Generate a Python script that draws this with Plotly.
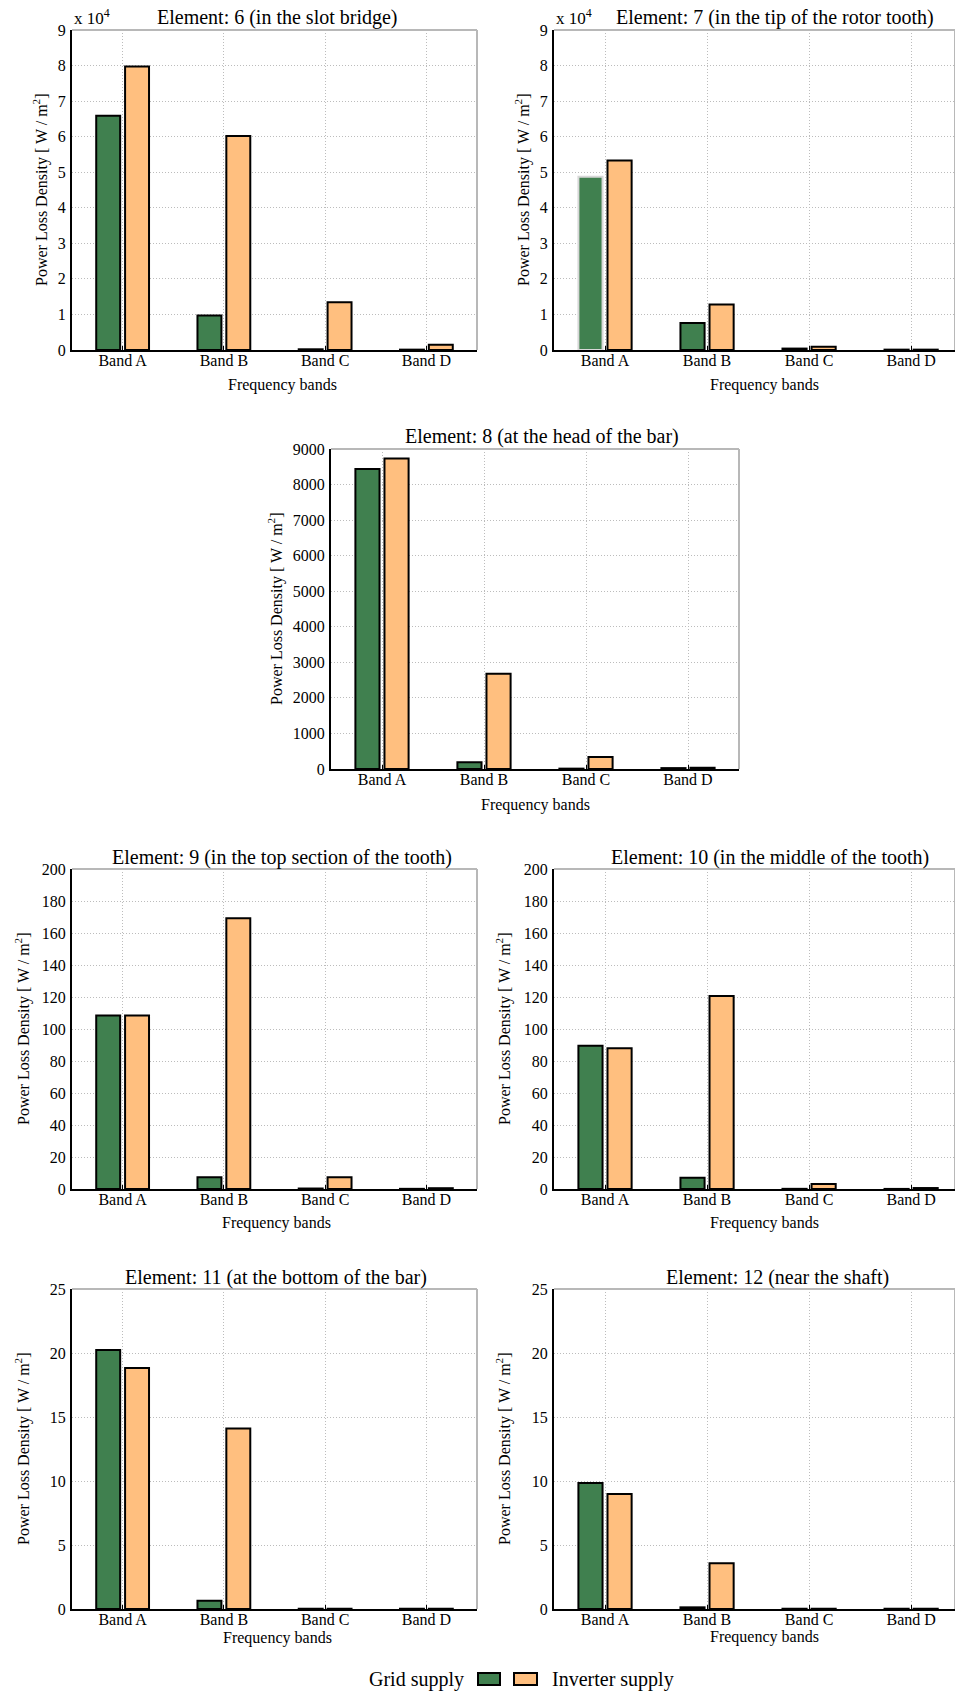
import plotly.graph_objects as go

W, H = 955, 1695

bands = ["Band A", "Band B", "Band C", "Band D"]
series_names = ["Grid supply", "Inverter supply"]

grid_e6 = [65900, 9700, 200, 100]
inv_e6 = [79700, 60200, 13400, 1500]
grid_e7 = [48700, 7600, 400, 100]
inv_e7 = [53300, 12800, 900, 100]
grid_e8 = [8440, 190, 10, 25]
inv_e8 = [8730, 2680, 340, 35]
grid_e9 = [108.5, 7.3, 0.3, 0.1]
inv_e9 = [108.5, 169.2, 7.3, 0.5]
grid_e10 = [89.6, 7.1, 0.1, 0.05]
inv_e10 = [87.9, 120.6, 3.1, 0.6]
grid_e11 = [20.24, 0.65, 0.02, 0.02]
inv_e11 = [18.83, 14.1, 0.02, 0.02]
grid_e12 = [9.85, 0.13, 0.02, 0.02]
inv_e12 = [8.99, 3.57, 0.02, 0.02]

titles = [
    "Element: 6 (in the slot bridge)",
    "Element: 7 (in the tip of the rotor tooth)",
    "Element: 8 (at the head of the bar)",
    "Element: 9 (in the top section of the tooth)",
    "Element: 10 (in the middle of the tooth)",
    "Element: 11 (at the bottom of the bar)",
    "Element: 12 (near the shaft)",
]
grid_series = [grid_e6, grid_e7, grid_e8, grid_e9, grid_e10, grid_e11, grid_e12]
inv_series = [inv_e6, inv_e7, inv_e8, inv_e9, inv_e10, inv_e11, inv_e12]
y_max = [90000, 90000, 9000, 200, 200, 25, 25]
y_step = [10000, 10000, 1000, 20, 20, 5, 5]
exp_labels = ["x 10<sup>4</sup>", "x 10<sup>4</sup>", None, None, None, None, None]

# layout geometry (pixels): left, right, top, bottom, x-range end
panels = [
    dict(l=72, r=477, t=30, b=350, xend=3.5, tx=277, ty=18, ytx=40, xtx=282, xty=385),
    dict(l=554, r=955, t=30, b=350, xend=3.43, tx=775, ty=18, ytx=522, xtx=764, xty=385),
    dict(l=331, r=739, t=449, b=769, xend=3.5, tx=542, ty=437, ytx=275, xtx=535, xty=805),
    dict(l=72, r=477, t=869, b=1189, xend=3.5, tx=282, ty=857, ytx=22, xtx=276, xty=1223),
    dict(l=554, r=955, t=869, b=1189, xend=3.43, tx=770, ty=857, ytx=503, xtx=764, xty=1223),
    dict(l=72, r=477, t=1289, b=1609, xend=3.5, tx=276, ty=1277, ytx=22, xtx=277, xty=1638),
    dict(l=554, r=955, t=1289, b=1609, xend=3.43, tx=777, ty=1277, ytx=503, xtx=764, xty=1637),
]

GREEN = "#40804F"
ORANGE = "#FFBF7F"
FONT = "Liberation Serif"
GRIDC = "#bcbcbc"
BOXC = "#b8b8b8"

fig = go.Figure()
annotations = []
shapes = []

def fx(p):
    return p / W

def fy(p):
    return 1 - p / H

for i, (p, title) in enumerate(zip(panels, titles)):
    k = "" if i == 0 else str(i + 1)
    xa, ya = "x" + k, "y" + k
    green_line = ["black"] * 4
    if i == 1:
        green_line = ["#d8d8d8", "black", "black", "black"]
    fig.add_trace(go.Bar(x=bands, y=grid_series[i], name=series_names[0],
                         marker=dict(color=GREEN, line=dict(color=green_line, width=2)),
                         xaxis=xa, yaxis=ya, showlegend=False))
    fig.add_trace(go.Bar(x=bands, y=inv_series[i], name=series_names[1],
                         marker=dict(color=ORANGE, line=dict(color="black", width=2)),
                         xaxis=xa, yaxis=ya, showlegend=False))
    nt = int(round(y_max[i] / y_step[i]))
    tickvals = [j * y_step[i] for j in range(nt + 1)]
    if exp_labels[i]:
        ticktext = [str(j) for j in range(nt + 1)]
    else:
        ticktext = [str(v) for v in tickvals]
    fig.layout["xaxis" + k] = dict(
        domain=[fx(p["l"]), fx(p["r"])], anchor=ya, range=[-0.5, p["xend"]],
        type="category", showline=True, linecolor="black", linewidth=2, mirror=False,
        showgrid=True, gridcolor=GRIDC, griddash="1px,2px", gridwidth=1,
        ticks="inside", ticklen=4, tickcolor="black", tickwidth=1,
        ticklabelstandoff=-5,
        tickfont=dict(family=FONT, size=16, color="black"), zeroline=False,
        automargin=False, fixedrange=True)
    fig.layout["yaxis" + k] = dict(
        domain=[fy(p["b"]), fy(p["t"])], anchor=xa, range=[0, y_max[i]],
        tickvals=tickvals, ticktext=ticktext,
        showline=True, linecolor="black", linewidth=2, mirror=False,
        showgrid=True, gridcolor=GRIDC, griddash="1px,2px", gridwidth=1,
        ticks="", ticklabelstandoff=1,
        tickfont=dict(family=FONT, size=16, color="black"), zeroline=False,
        automargin=False, fixedrange=True)
    # gray top/right box lines
    shapes.append(dict(type="line", xref=xa + " domain", yref=ya + " domain",
                       x0=0, x1=1, y0=1, y1=1, line=dict(color=BOXC, width=2), layer="above"))
    shapes.append(dict(type="line", xref=xa + " domain", yref=ya + " domain",
                       x0=1, x1=1, y0=0, y1=1, line=dict(color=BOXC, width=2), layer="above"))
    annotations.append(dict(text=title, x=fx(p["tx"]), y=fy(p["ty"]), xref="paper", yref="paper",
                            xanchor="center", yanchor="middle", showarrow=False,
                            font=dict(family=FONT, size=20, color="black")))
    annotations.append(dict(text="Power Loss Density [ W / m<sup>2</sup>]", textangle=-90,
                            x=fx(p["ytx"]), y=fy((p["t"] + p["b"]) / 2), xref="paper", yref="paper",
                            xanchor="center", yanchor="middle", showarrow=False,
                            font=dict(family=FONT, size=16, color="black")))
    annotations.append(dict(text="Frequency bands", x=fx(p["xtx"]), y=fy(p["xty"]),
                            xref="paper", yref="paper", xanchor="center", yanchor="middle",
                            showarrow=False, font=dict(family=FONT, size=16, color="black")))
    if exp_labels[i]:
        annotations.append(dict(text=exp_labels[i], x=fx(p["l"]), y=fy(p["t"] - 13),
                                xref="paper", yref="paper", xanchor="left", yanchor="middle",
                                showarrow=False, font=dict(family=FONT, size=17, color="black")))

# legend drawn below the panels
leg_y = 1679
annotations.append(dict(text=series_names[0], x=fx(466), y=fy(leg_y), xref="paper", yref="paper",
                        xanchor="right", yanchor="middle", showarrow=False,
                        font=dict(family=FONT, size=20, color="black")))
annotations.append(dict(text=series_names[1], x=fx(550), y=fy(leg_y), xref="paper", yref="paper",
                        xanchor="left", yanchor="middle", showarrow=False,
                        font=dict(family=FONT, size=20, color="black")))
shapes.append(dict(type="rect", xref="paper", yref="paper", x0=fx(478), x1=fx(500),
                   y0=fy(leg_y + 6), y1=fy(leg_y - 6), fillcolor=GREEN,
                   line=dict(color="black", width=2)))
shapes.append(dict(type="rect", xref="paper", yref="paper", x0=fx(514), x1=fx(537),
                   y0=fy(leg_y + 6), y1=fy(leg_y - 6), fillcolor=ORANGE,
                   line=dict(color="black", width=2)))

fig.update_layout(
    width=W, height=H, margin=dict(l=0, r=0, t=0, b=0),
    paper_bgcolor="white", plot_bgcolor="white",
    barmode="group", bargap=0.43, bargroupgap=0.17,
    font=dict(family=FONT, color="black"),
    annotations=annotations, shapes=shapes, showlegend=False,
)

fig.write_html("out.html", config={"displayModeBar": False},
               post_script="document.body.style.margin='0';document.body.style.overflow='hidden';")
